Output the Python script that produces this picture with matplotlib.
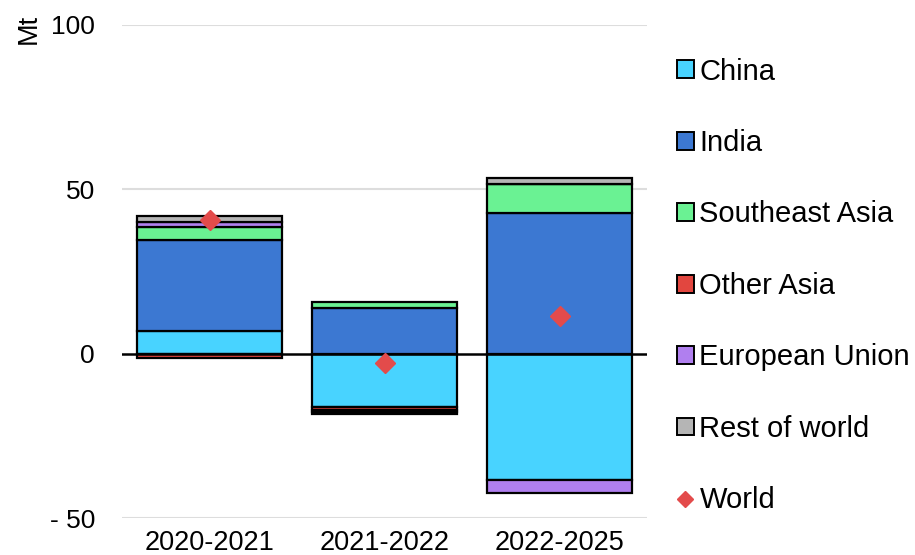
import matplotlib
matplotlib.use("Agg")
import matplotlib.pyplot as plt
import numpy as np
from matplotlib.patches import Patch
from matplotlib.lines import Line2D

plt.rcParams['font.family'] = ['Liberation Sans', 'DejaVu Sans']

categories = ["2020-2021", "2021-2022", "2022-2025"]
series_names = ["China", "India", "Southeast Asia", "Other Asia", "European Union", "Rest of world"]
china = [7.0, -16.3, -38.4]
india = [27.7, 13.8, 42.8]
se_asia = [3.9, 1.9, 8.7]
other_asia = [-1.4, -0.9, 0.0]
eu = [1.6, -0.5, -4.0]
rest_world = [1.8, -0.8, 2.0]
world = [40.8, -2.8, 11.4]
yticks = [-50, 0, 50, 100]
ytick_labels = ["- 50", "0", "50", "100"]

colors = ["#48D3FF", "#3C78D2", "#6AF293", "#E2463F", "#B07FEF", "#B5B5B5"]
world_color = "#E34B4B"

fig = plt.figure(figsize=(9.15, 5.55), dpi=100)
ax = fig.add_axes([122/915, 1 - 518/555, 525/915, (518-25)/555])

x = np.arange(len(categories))
width = 0.83
pos_base = np.zeros(len(categories))
neg_base = np.zeros(len(categories))
for name, vals, col in zip(series_names, [china, india, se_asia, other_asia, eu, rest_world], colors):
    v = np.array(vals, dtype=float)
    bottoms = np.where(v >= 0, pos_base, neg_base)
    ax.bar(x, v, width, bottom=bottoms, color=col, edgecolor="black", linewidth=1.6, zorder=3)
    pos_base = pos_base + np.where(v >= 0, v, 0)
    neg_base = neg_base + np.where(v < 0, v, 0)

ax.plot(x, world, linestyle="none", marker="D", markersize=10, color=world_color, zorder=5)

ax.axhline(0, color="black", linewidth=1.8, zorder=4)
ax.set_xlim(-0.5, 2.5)
ax.set_ylim(-50, 100)
ax.set_yticks(yticks)
ax.set_yticklabels(ytick_labels)
ax.set_xticks(x)
ax.set_xticklabels(categories)
for gy in [-50, 50, 100]:
    ax.axhline(gy, color="#DDDDDD", linewidth=1.5, zorder=1)
for s in ax.spines.values():
    s.set_visible(False)
ax.tick_params(axis="y", length=0, labelsize=19, pad=19.5)
ax.tick_params(axis="x", length=0, labelsize=19.5, pad=9)

fig.text(29/915, 1 - 29/555, "Mt", rotation=90, fontsize=19.5, ha="center", va="center")

handles = [Patch(facecolor=c, edgecolor="black", linewidth=1.4) for c in colors]
handles.append(Line2D([], [], linestyle="none", marker="D", markersize=8.5, color=world_color))
labels = series_names + ["World"]
fig.legend(handles, labels, loc="upper left", bbox_to_anchor=(677/915, 1 - 57.5/555),
           frameon=False, fontsize=21, handlelength=0.57, handleheight=0.57,
           handletextpad=0.2, labelspacing=1.49, borderaxespad=0, borderpad=0)

fig.savefig("out.png", dpi=100)
